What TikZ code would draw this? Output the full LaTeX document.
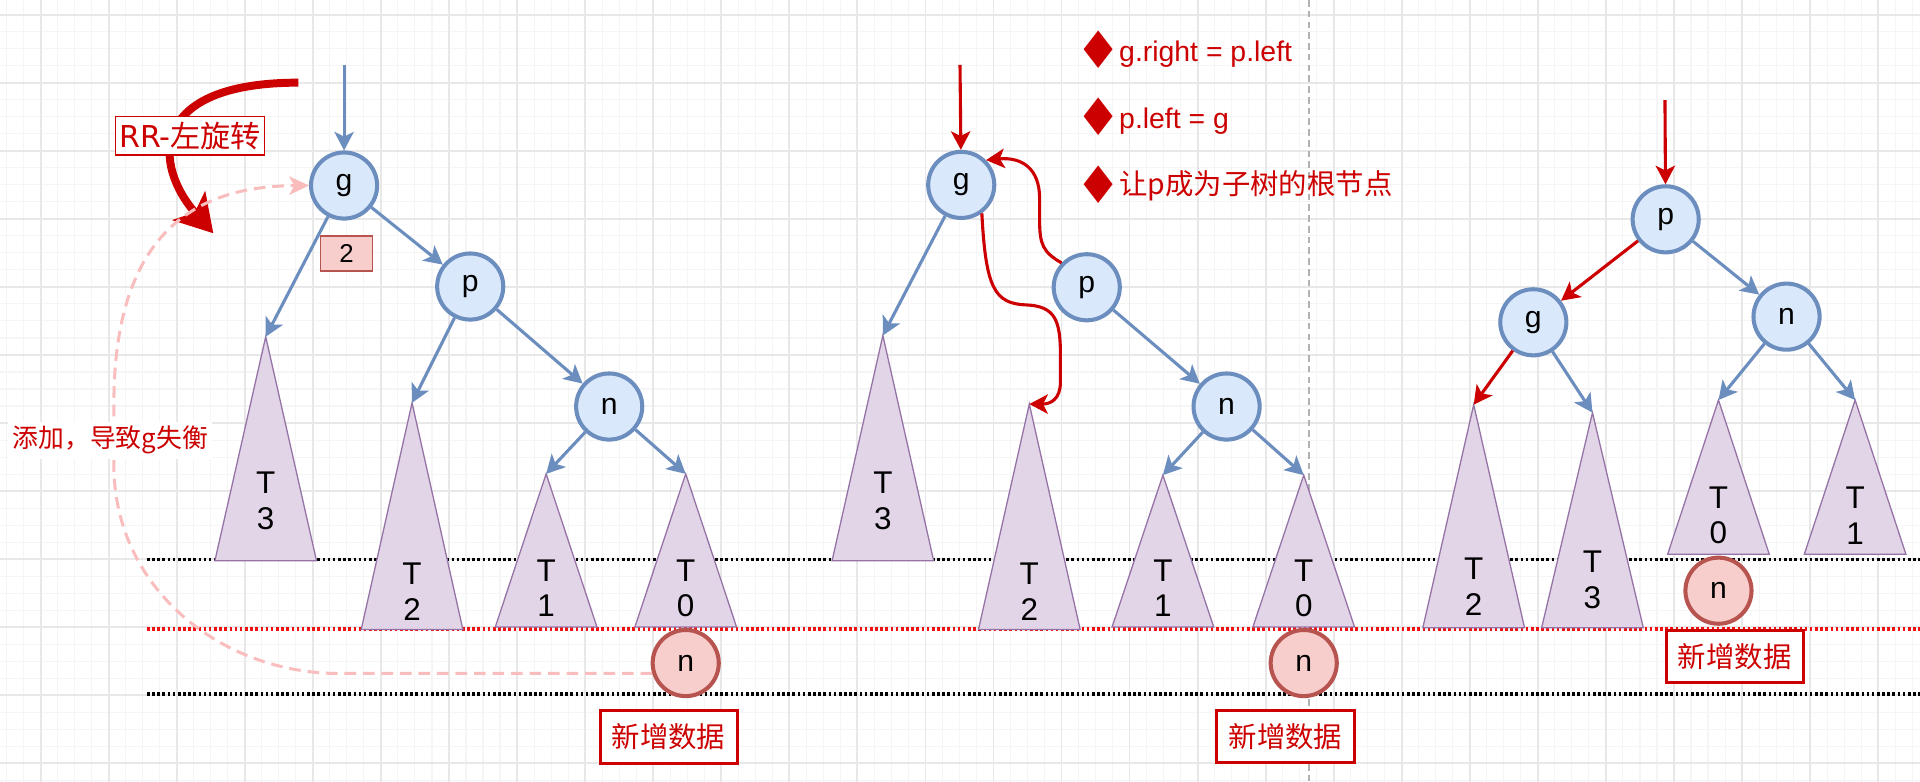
\documentclass[tikz,border=0pt]{standalone}
\usepackage{fontspec}
\setmainfont{Liberation Sans}
\newfontfamily\cjk{Noto Sans CJK SC}
\newfontfamily\dejavu{DejaVu Sans}
\usetikzlibrary{arrows.meta}
\definecolor{nodeblue}{HTML}{6C8EBF}
\definecolor{nodefill}{HTML}{DAE8FC}
\definecolor{subline}{HTML}{9673A6}
\definecolor{subfill}{HTML}{E1D5E7}
\definecolor{newline}{HTML}{B85450}
\definecolor{newfill}{HTML}{F8CECC}
\definecolor{textred}{HTML}{CC0000}
\definecolor{levelred}{HTML}{F01010}
\definecolor{flowpink}{HTML}{F9BDBD}
\definecolor{gridmin}{HTML}{F5F5F5}
\definecolor{gridmaj}{HTML}{E8E8E8}
\begin{document}
\begin{tikzpicture}[x=1cm,y=-1cm,
	tnode/.style={circle,draw=nodeblue,fill=nodefill,line width=0.94pt,minimum size=0.54cm,inner sep=0pt,font=\fontsize{7pt}{8pt}\selectfont},
	newnode/.style={tnode,draw=newline,fill=newfill},
	sub/.style={draw=subline,fill=subfill,line width=0.3pt},
	sublabel/.style={align=center,inner sep=0pt,font=\fontsize{7.3pt}{8.25pt}\selectfont},
	edge/.style={draw=nodeblue,line width=0.72pt,-{Stealth[length=4.3pt,width=4.5pt,inset=1.1pt]}},
	redge/.style={edge,draw=textred},
	level/.style={line width=0.85pt,dash pattern=on 0.6pt off 0.6pt},
	newbox/.style={draw=textred,line width=0.7pt,fill=white,minimum width=1.12cm,minimum height=0.43cm,inner sep=0pt,text=textred,font=\cjk\fontsize{6.6pt}{7pt}\selectfont},
	hbox/.style={draw=newline,fill=newfill,line width=0.3pt,minimum width=0.42cm,minimum height=0.285cm,inner sep=0pt,font=\fontsize{6pt}{7pt}\selectfont},
	bullet/.style={text=textred,inner sep=0pt,font=\dejavu\fontsize{12pt}{12pt}\selectfont},
	note/.style={anchor=base west,inner sep=0pt,text=textred,font=\fontsize{6.6pt}{8pt}\selectfont}]
	\useasboundingbox (0,0) rectangle (15.68,6.386);
	\fill[white] (0,0) rectangle (15.68,6.386);
	% grid
	\foreach \i in {0,...,112} \draw[gridmin,line width=0.25pt] ({0.054+0.13895*\i},0) -- ++(0,6.386);
	\foreach \i in {0,...,45} \draw[gridmin,line width=0.25pt] (0,{0.12+0.13895*\i}) -- ++(15.68,0);
	\foreach \i in {0,...,27} \draw[gridmaj,line width=0.4pt] ({0.332+0.5558*\i},0) -- ++(0,6.386);
	\foreach \i in {0,...,11} \draw[gridmaj,line width=0.4pt] (0,{0.12+0.5558*\i}) -- ++(15.68,0);
	\draw[black!30,line width=0.4pt,dash pattern=on 1.55pt off 0.95pt] (10.69,0) -- (10.69,6.386);
	% levels
	\draw[level] (1.20,4.57) -- (15.68,4.57);
	\draw[level,levelred] (1.20,5.135) -- (15.68,5.135);
	\draw[level] (1.20,5.67) -- (15.68,5.67);
	% subtrees
	\foreach \nm/\x/\y/\b/\ly/\lab in {t13/2.17/2.75/4.58/4.09/3, t12/3.365/3.29/5.14/4.83/2,
		t11/4.46/3.87/5.12/4.805/1, t10/5.60/3.87/5.12/4.805/0,
		t23/7.21/2.74/4.58/4.09/3, t22/8.406/3.30/5.14/4.83/2,
		t21/9.497/3.88/5.12/4.805/1, t20/10.647/3.88/5.12/4.805/0,
		t32/12.035/3.305/5.126/4.79/2, t33/13.005/3.37/5.126/4.735/3,
		t30/14.034/3.267/4.527/4.21/0, t31/15.15/3.267/4.527/4.21/1}{
		\coordinate (\nm) at (\x,\y);
		\draw[sub] (\nm) -- ({\x-0.415},\b) -- ({\x+0.415},\b) -- cycle;
		\draw ({\x},\ly) node[sublabel] (l\nm) {T\\\lab};
	}
	% before
	\draw (2.81,1.515) node[tnode] (g1) {g};
	\draw (3.84,2.34) node[tnode] (p1) {p};
	\draw (4.975,3.32) node[tnode] (n1) {n};
	\draw (5.60,5.415) node[newnode] (nn1) {n};
	\draw (2.83,2.07) node[hbox] (h1) {2};
	\coordinate (in1) at (2.81,0.53);
	\draw[edge] (in1) -- (g1);
	\draw[edge] (g1) -- (t13);
	\draw[edge] (g1) -- (p1);
	\draw[edge] (p1) -- (t12);
	\draw[edge] (p1) -- (n1);
	\draw[edge] (n1) -- (t11);
	\draw[edge] (n1) -- (t10);
	\coordinate (rrs) at (2.436,0.675);
	\coordinate (rre) at (1.742,1.905);
	\draw[textred,line width=1.85pt,-{Stealth[length=8.5pt,width=10pt,inset=2pt]}] (rrs) .. controls (1.20,0.675) and (1.25,1.35) .. (rre);
	\draw (1.553,1.108) node[draw=textred,fill=white,line width=0.3pt,minimum width=1.215cm,minimum height=0.316cm,inner sep=0pt,text=textred,font=\cjk\fontsize{7pt}{8pt}\selectfont] (rr) {{\dejavu RR-}左旋转};
	\draw[flowpink,line width=0.7pt,dash pattern=on 2.7pt off 1.6pt,-{Stealth[length=4.6pt,width=4.3pt,inset=1.2pt]}] (nn1.197) -- (2.77,5.50) .. controls (1.80,5.50) and (0.93,4.80) .. (0.93,3.80) -- (0.93,3.30) .. controls (0.93,1.80) and (1.70,1.52) .. (g1.west);
	\draw (0.90,3.595) node[fill=white,inner sep=1pt,text=textred,font=\cjk\fontsize{6pt}{7pt}\selectfont] (add) {添加，导致g失衡};
	\draw (5.46,6.02) node[newbox] (w1) {新增数据};
	% rotating
	\draw (7.85,1.51) node[tnode] (g2) {g};
	\draw (8.875,2.346) node[tnode] (p2) {p};
	\draw (10.017,3.32) node[tnode] (n2) {n};
	\draw (10.647,5.415) node[newnode] (nn2) {n};
	\coordinate (in2) at (7.84,0.53);
	\draw[redge] (in2) -- (g2);
	\draw[edge] (g2) -- (t23);
	\draw[edge] (p2) -- (n2);
	\draw[edge] (n2) -- (t21);
	\draw[edge] (n2) -- (t20);
	\draw[redge] (p2.136) .. controls (8.52,2.06) and (8.49,2.00) .. (8.49,1.80) -- (8.49,1.62) .. controls (8.49,1.38) and (8.35,1.28) .. (g2.45);
	\draw[redge] (g2.-54) .. controls (8.05,2.35) and (8.12,2.48) .. (8.38,2.49) .. controls (8.62,2.50) and (8.66,2.62) .. (8.66,2.90) -- (8.66,3.12) .. controls (8.66,3.26) and (8.58,3.30) .. (t22);
	\draw (10.498,6.016) node[newbox] (w2) {新增数据};
	\draw (8.97,0.403) node[bullet] (d1) {♦};
	\draw (8.97,0.953) node[bullet] (d2) {♦};
	\draw (8.97,1.51) node[bullet] (d3) {♦};
	\draw (9.133,0.504) node[note] (r1) {g.right = p.left};
	\draw (9.133,1.048) node[note] (r2) {p.left = g};
	\draw (9.133,1.592) node[note,font=\cjk\fontsize{6.6pt}{8pt}\selectfont] (r3) {让p成为子树的根节点};
	% after
	\draw (13.603,1.791) node[tnode] (p3) {p};
	\draw (12.522,2.632) node[tnode] (g3) {g};
	\draw (14.59,2.586) node[tnode] (n3) {n};
	\draw (14.034,4.824) node[newnode] (nn3) {n};
	\coordinate (in3) at (13.597,0.817);
	\draw[redge] (in3) -- (p3);
	\draw[redge] (p3) -- (g3);
	\draw[edge] (p3) -- (n3);
	\draw[redge] (g3) -- (t32);
	\draw[edge] (g3) -- (t33);
	\draw[edge] (n3) -- (t30);
	\draw[edge] (n3) -- (t31);
	\draw (14.166,5.362) node[newbox] (w3) {新增数据};
\end{tikzpicture}
\end{document}
